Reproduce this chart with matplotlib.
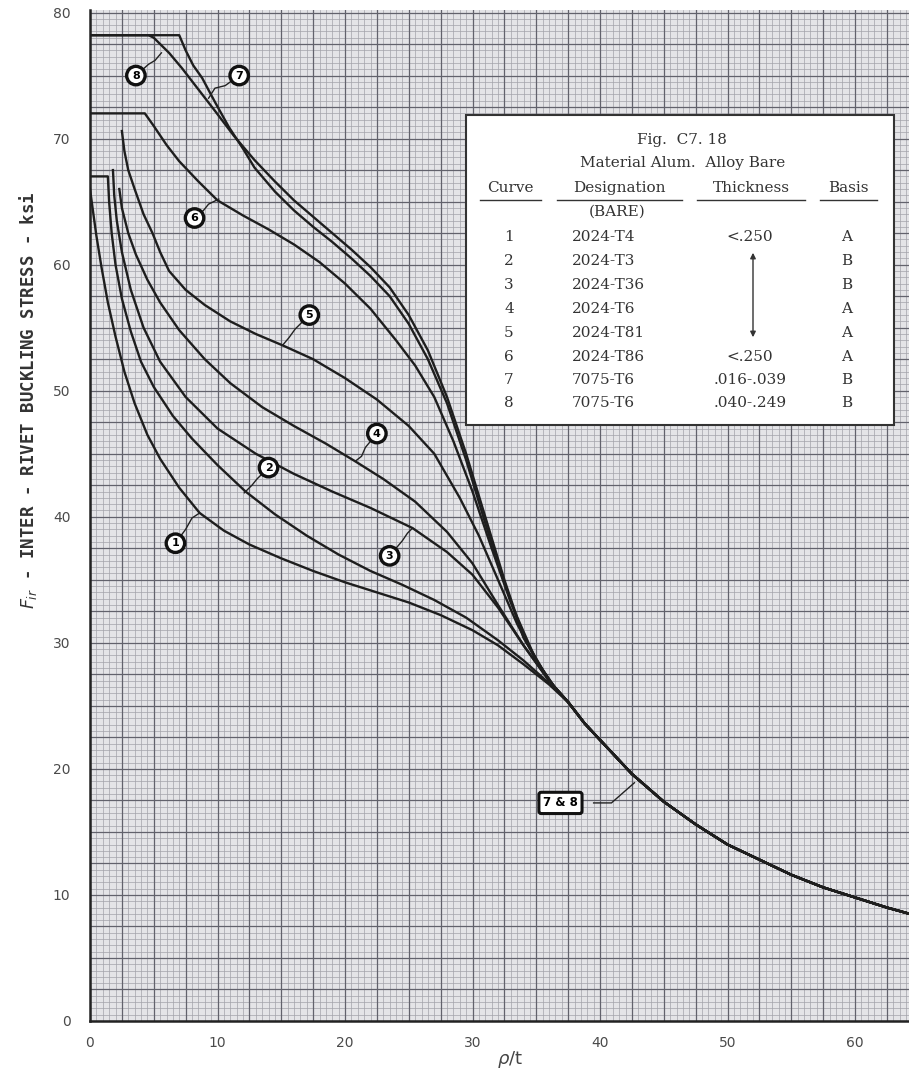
import matplotlib
matplotlib.use('Agg')
import matplotlib.pyplot as plt
from matplotlib.ticker import MultipleLocator
from matplotlib.patches import Rectangle, FancyArrowPatch
import numpy as np

# curves: rho/t vs Fir (ksi)
c1_x = [0, 0.2, 0.5, 0.9, 1.4, 2.0, 2.7, 3.5, 4.5, 5.5, 7, 8.6, 10.5, 12.5, 15, 17.5, 20, 22.5, 25, 27.5, 30, 32, 34, 36]
c1_y = [66, 64.5, 62.3, 59.8, 57, 54.3, 51.5, 49, 46.5, 44.6, 42.3, 40.3, 38.9, 37.8, 36.7, 35.7, 34.8, 34, 33.2, 32.2, 31, 29.8, 28.3, 26.7]
c2_x = [0, 1.4, 1.5, 1.7, 2.0, 2.5, 3.2, 4.0, 5.0, 6.5, 8, 10, 12.2, 14.5, 17, 19.5, 22, 24.5, 27, 29.5, 32, 34, 36]
c2_y = [67, 67, 65, 62.5, 60, 57.3, 54.7, 52.3, 50.3, 48, 46.2, 44.1, 42.0, 40.2, 38.5, 37.0, 35.7, 34.6, 33.4, 32, 30.2, 28.6, 26.8]
c3_x = [1.8, 1.9, 2.1, 2.5, 3.2, 4.2, 5.5, 7.5, 10, 13, 16, 19, 22, 25.3, 28, 30, 32, 34, 36]
c3_y = [67.5, 65.5, 63.5, 61, 58, 55, 52.3, 49.5, 47, 45, 43.4, 42, 40.7, 39.1, 37.2, 35.4, 32.8, 29.8, 27]
c4_x = [2.3, 2.5, 3.0, 3.6, 4.5, 5.5, 7, 9, 11, 13.5, 16, 18.5, 20.8, 23, 25.5, 28, 30, 32, 34, 36]
c4_y = [66, 64.5, 62.5, 60.8, 58.8, 57, 54.8, 52.5, 50.6, 48.7, 47.2, 45.8, 44.4, 43.0, 41.2, 38.8, 36.3, 33, 29.8, 27]
c5_x = [2.5, 2.7, 3.0, 3.5, 4.2, 4.9, 5.5, 6.2, 7.5, 9, 11, 13, 15.1, 17.5, 20, 22.5, 25, 27, 29, 30.5, 32, 33.5, 35, 36.5]
c5_y = [70.6, 69, 67.5, 66, 64, 62.5, 61, 59.5, 58, 56.8, 55.5, 54.5, 53.6, 52.5, 51, 49.3, 47.2, 45, 41.5, 38.5, 35, 31.5, 28.6, 26.4]
c6_x = [0, 4.3, 5, 6, 7, 8.5, 10, 12, 14, 16, 18, 20, 22, 24, 25.5, 27, 28.5, 30, 31.5, 33, 35, 36.5]
c6_y = [72, 72, 71, 69.5, 68.2, 66.6, 65.1, 63.9, 62.8, 61.6, 60.2, 58.5, 56.5, 54, 52, 49.5, 46, 42, 37.5, 33.2, 28.6, 26.4]
c7_x = [0, 7, 7.5, 8.1, 8.8, 9.8, 10.9, 12, 12.9, 14.5, 16, 17.5, 19, 20.5, 22, 23.5, 25, 26.5, 28, 29.5, 31, 32.5, 34, 36]
c7_y = [78.2, 78.2, 77, 75.8, 74.8, 72.9, 70.9, 69.2, 67.7, 65.8, 64.3, 63, 61.8, 60.5, 59.1, 57.5, 55.3, 52.5, 49, 44.5, 39.5, 34.8, 30.4, 27]
c8_x = [0, 4.6, 5.0, 5.4, 6.2, 7.2, 8.5, 9.8, 11.3, 12.9, 14.5, 16, 17.5, 19, 20.5, 22, 23.5, 25, 26.5, 28, 29.5, 31, 32.5, 34, 36]
c8_y = [78.2, 78.2, 78.0, 77.6, 76.8, 75.6, 73.9, 72.2, 70.2, 68.3, 66.6, 65.1, 63.8, 62.5, 61.2, 59.8, 58.2, 56.0, 53.2, 49.5, 45, 40, 35, 30.5, 27]
# common tail shared by every curve
tail_x = [37.5, 38.8, 40, 42.5, 45, 47.5, 50, 52.5, 55, 57.5, 60, 62.5, 65]
tail_y = [25.3, 23.6, 22.3, 19.6, 17.4, 15.6, 14.0, 12.8, 11.6, 10.6, 9.8, 9.0, 8.3]

curves = [(c1_x, c1_y), (c2_x, c2_y), (c3_x, c3_y), (c4_x, c4_y),
          (c5_x, c5_y), (c6_x, c6_y), (c7_x, c7_y), (c8_x, c8_y)]

# circled curve numbers: label position, leader path to the curve
labels = ['1', '2', '3', '4', '5', '6', '7', '8']
label_pos = [(6.7, 37.9), (14.0, 43.9), (23.5, 36.9), (22.5, 46.6),
             (17.2, 56.0), (8.2, 63.7), (11.7, 75.0), (3.6, 75.0)]
leaders = [[(7.5, 39.0), (8.0, 39.9), (8.6, 40.3)],
           [(13.1, 43.0), (12.7, 42.5), (12.1, 41.9)],
           [(24.5, 38.1), (24.9, 38.7), (25.3, 39.1)],
           [(21.6, 45.5), (21.3, 44.8), (20.8, 44.4)],
           [(16.1, 54.9), (15.6, 54.2), (15.1, 53.6)],
           [(8.9, 64.3), (9.3, 64.8), (10.1, 65.2)],
           [(10.6, 74.2), (9.8, 74.0), (9.3, 73.2)],
           [(4.6, 75.9), (5.1, 76.2), (5.6, 76.8)]]

tbl_curve = ['1', '2', '3', '4', '5', '6', '7', '8']
tbl_desig = ['2024-T4', '2024-T3', '2024-T36', '2024-T6', '2024-T81', '2024-T86', '7075-T6', '7075-T6']
tbl_thick = ['<.250', '', '', '', '', '<.250', '.016-.039', '.040-.249']
tbl_basis = ['A', 'B', 'B', 'A', 'A', 'A', 'B', 'B']

W, H = 909, 1085
fig = plt.figure(figsize=(W / 100, H / 100), dpi=100)
ax = fig.add_axes([90 / W, 1 - 1021 / H, 1 - 90 / W, (1021 - 10) / H])
ax.set_facecolor('#e4e4e7')
ax.set_xlim(0, (W - 90) / 12.75)
ax.set_ylim(0, 80.2)

# graph paper
ax.xaxis.set_minor_locator(MultipleLocator(0.5))
ax.yaxis.set_minor_locator(MultipleLocator(0.5))
ax.grid(which='minor', color='#a2a2aa', lw=0.5)
for v in np.arange(0, 66, 2.5):
    ax.axvline(v, color='#62626c', lw=0.9, zorder=1)
for v in np.arange(0, 81, 2.5):
    ax.axhline(v, color='#62626c', lw=0.9, zorder=1)
ax.set_axisbelow(True)

ax.set_xticks(np.arange(0, 61, 10))
ax.set_yticks(np.arange(0, 81, 10))
ax.tick_params(which='both', length=0, labelsize=10, labelcolor='#4a4a4a')
ax.tick_params(axis='x', pad=11)
ax.tick_params(axis='y', pad=14)
for s in ['top', 'right']:
    ax.spines[s].set_visible(False)
for s in ['left', 'bottom']:
    ax.spines[s].set_linewidth(1.8)
    ax.spines[s].set_color('#222222')

for cx, cy in curves:
    ax.plot(cx + tail_x, cy + tail_y, color='#1e1e1e', lw=1.7, zorder=3)

for lab, pos, path in zip(labels, label_pos, leaders):
    px = [pos[0]] + [p[0] for p in path]
    py = [pos[1]] + [p[1] for p in path]
    ax.plot(px, py, color='#222222', lw=1.0, zorder=4)
    ax.text(pos[0], pos[1], lab, ha='center', va='center', fontsize=8, fontweight='bold',
            zorder=5, bbox=dict(boxstyle='circle,pad=0.38', fc='white', ec='#111111', lw=2.4))

ax.plot([39.5, 40.9, 42.7], [17.3, 17.3, 18.9], color='#222222', lw=1.0, zorder=4)
ax.text(36.9, 17.3, '7 & 8', ha='center', va='center', fontsize=8.5, fontweight='bold', zorder=5,
        bbox=dict(boxstyle='round,pad=0.35,rounding_size=0.2', fc='white', ec='#111111', lw=2.2))


def fx(x):
    return x / W


def fy(y):
    return 1 - y / H


# table in the upper right
fig.patches.append(Rectangle((fx(466), fy(425)), fx(894) - fx(466), fy(115) - fy(425),
                             transform=fig.transFigure, fc='white', ec='#333333', lw=1.5, zorder=10))
tf = dict(family='DejaVu Serif', fontsize=11, color='#333333', zorder=11, va='center')
fig.text(fx(682), fy(140), 'Fig.  C7. 18', ha='center', **tf)
fig.text(fx(683), fy(163), 'Material Alum.  Alloy Bare', ha='center', **tf)
heads = [('Curve', 510), ('Designation', 619), ('Thickness', 751), ('Basis', 848)]
for h, x in heads:
    fig.text(fx(x), fy(188), h, ha='center', **tf)
for x0, x1 in [(480, 541), (557, 682), (697, 805), (820, 877)]:
    fig.lines.append(plt.Line2D([fx(x0), fx(x1)], [fy(200), fy(200)], transform=fig.transFigure,
                                color='#333333', lw=1.0, zorder=11))
fig.text(fx(617), fy(212), '(BARE)', ha='center', **tf)
row_y = [237, 261, 285, 309, 333, 357, 380, 403]
for i, y in enumerate(row_y):
    fig.text(fx(509), fy(y), tbl_curve[i], ha='center', **tf)
    fig.text(fx(572), fy(y), tbl_desig[i], ha='left', **tf)
    fig.text(fx(750), fy(y), tbl_thick[i], ha='center', **tf)
    fig.text(fx(847), fy(y), tbl_basis[i], ha='center', **tf)
fig.patches.append(FancyArrowPatch((fx(753), fy(250)), (fx(753), fy(340)),
                                   transform=fig.transFigure, arrowstyle='<|-|>',
                                   mutation_scale=8, color='#333333', lw=1.0, zorder=11))

fig.text(fx(510), fy(1060), r'$\rho$/t', ha='center', va='center', fontsize=13, color='#444444')
fig.text(fx(28), fy(400), r'$F_{ir}$ - INTER - RIVET BUCKLING STRESS - ksi', rotation=90,
         ha='center', va='center', fontsize=12.5, fontweight='bold', family='DejaVu Sans Mono',
         color='#333333')

plt.savefig('out.png', dpi=100)
